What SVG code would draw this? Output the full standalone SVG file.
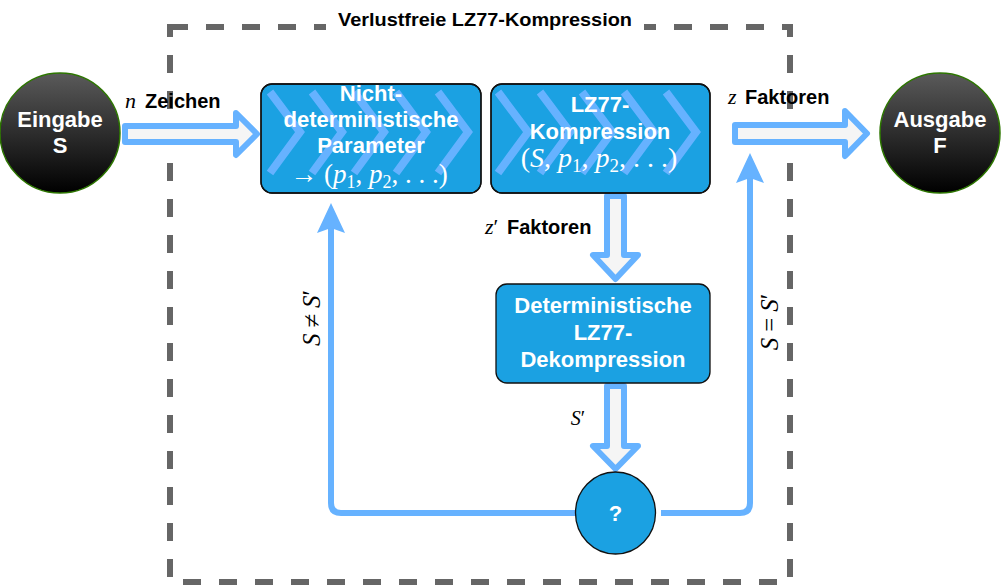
<svg xmlns="http://www.w3.org/2000/svg" width="1001" height="586" viewBox="0 0 1001 586">
<defs>
  <linearGradient id="dark" x1="0" y1="0" x2="0" y2="1">
    <stop offset="0" stop-color="#5a5a5a"/>
    <stop offset="1" stop-color="#000000"/>
  </linearGradient>
  <clipPath id="clip1"><rect x="261" y="84" width="220" height="109" rx="11"/></clipPath>
  <clipPath id="clip2"><rect x="491" y="84" width="219" height="109" rx="11"/></clipPath>
  <style>
    .sans{font-family:"Liberation Sans",Arial,sans-serif;font-weight:bold}
    .math{font-family:"Liberation Serif","Times New Roman",serif;font-style:italic}
    .wt{fill:#ffffff;font-size:22px;text-anchor:middle}
    .lbl{fill:#000000;font-size:20px}
    .box{fill:#1ba1e2;stroke:#111111;stroke-width:1.3}
    .chev{fill:none;stroke:#66b2ff;stroke-width:8}
    .flat{fill:#f5f5f5;stroke:#66b2ff;stroke-width:6;stroke-linejoin:round}
    .loop{fill:none;stroke:#66b2ff;stroke-width:6}
    .head{fill:#66b2ff;stroke:none}
  </style>
</defs>
<rect width="1001" height="586" fill="#ffffff"/>

<g id="container">
  <rect x="170" y="27" width="620" height="555" fill="none" stroke="#666666" stroke-width="6" stroke-dasharray="18 18"/>
  <rect x="326" y="8" width="318" height="34" fill="#ffffff"/>
  <text x="485" y="26" class="sans" font-size="19" text-anchor="middle" textLength="294" lengthAdjust="spacingAndGlyphs" fill="#000">Verlustfreie LZ77-Kompression</text>
</g>

<g id="connectors">
  <path class="flat" d="M125,126 L236,126 L236,113 L257,134 L236,155 L236,142 L125,142 Z"/>
  <path class="flat" d="M735,125 L845,125 L845,111 L867,133.5 L845,156 L845,142 L735,142 Z"/>
  <path class="flat" d="M607,196 L624,196 L624,255 L638,255 L615.5,279 L593,255 L607,255 Z"/>
  <path class="flat" d="M607,386 L624,386 L624,446 L638,446 L615.5,469 L593,446 L607,446 Z"/>
  <path class="loop" d="M576,513 L341,513 Q331,513 331,503 L331,228"/>
  <path class="head" d="M331,203 L345,233 L331,228 L317,233 Z"/>
  <path class="loop" d="M661,513 L740,513 Q750,513 750,503 L750,178"/>
  <path class="head" d="M750,153 L764,183 L750,178 L736,183 Z"/>
  <text x="125" y="108" class="lbl"><tspan class="math" font-size="22">n</tspan><tspan class="sans" x="145">Zeichen</tspan></text>
  <text x="728" y="104" class="lbl"><tspan class="math" font-size="22">z</tspan><tspan class="sans" x="745">Faktoren</tspan></text>
  <text x="485" y="234" class="lbl"><tspan class="math" font-size="22">z</tspan><tspan font-family="Liberation Serif,serif" font-size="22">′</tspan><tspan class="sans" x="507">Faktoren</tspan></text>
  <text x="578" y="425" class="lbl" font-size="23" text-anchor="middle"><tspan class="math">S</tspan><tspan font-family="Liberation Serif,serif">′</tspan></text>
  <text transform="translate(320,318) rotate(-90)" style="font-size:25px" text-anchor="middle" font-family="Liberation Serif,serif" fill="#000"><tspan class="math">S</tspan><tspan dx="6">≠</tspan><tspan class="math" dx="6">S</tspan>′</text>
  <text transform="translate(778,322) rotate(-90)" style="font-size:25px" text-anchor="middle" font-family="Liberation Serif,serif" fill="#000"><tspan class="math">S</tspan><tspan dx="6">=</tspan><tspan class="math" dx="6">S</tspan>′</text>
</g>

<g id="eingabe">
  <circle cx="60" cy="133" r="60" fill="url(#dark)" stroke="#2d7600" stroke-width="1.5"/>
  <text x="60" y="127" class="sans wt">Eingabe</text>
  <text x="60" y="153" class="sans wt">S</text>
</g>

<g id="ausgabe">
  <circle cx="940" cy="133" r="60" fill="url(#dark)" stroke="#2d7600" stroke-width="1.5"/>
  <text x="940" y="127" class="sans wt">Ausgabe</text>
  <text x="940" y="153" class="sans wt">F</text>
</g>

<g id="parameter">
  <rect class="box" x="261" y="84" width="220" height="109" rx="11"/>
  <g clip-path="url(#clip1)">
    <path class="chev" d="M270,92 L300,132 L270,173 M312,92 L342,132 L312,173 M354,92 L384,132 L354,173 M396,92 L426,132 L396,173 M438,92 L468,132 L438,173"/>
  </g>
  <rect x="261" y="84" width="220" height="109" rx="11" fill="none" stroke="#111" stroke-width="1.3"/>
  <text x="371" y="101" class="sans wt">Nicht-</text>
  <text x="371" y="127" class="sans wt">deterministische</text>
  <text x="371" y="153" class="sans wt">Parameter</text>
  <text x="369" y="183" fill="#ffffff" font-size="27" text-anchor="middle" font-family="Liberation Serif,serif">→ (<tspan class="math">p</tspan><tspan font-size="18" dy="5">1</tspan><tspan dy="-5">, </tspan><tspan class="math">p</tspan><tspan font-size="18" dy="5">2</tspan><tspan dy="-5">, . . .)</tspan></text>
</g>

<g id="kompression">
  <rect class="box" x="491" y="84" width="219" height="109" rx="11"/>
  <g clip-path="url(#clip2)">
    <path class="chev" d="M498,92 L528,132 L498,173 M540,92 L570,132 L540,173 M582,92 L612,132 L582,173 M624,92 L654,132 L624,173 M666,92 L696,132 L666,173"/>
  </g>
  <rect x="491" y="84" width="219" height="109" rx="11" fill="none" stroke="#111" stroke-width="1.3"/>
  <text x="600" y="112" class="sans wt">LZ77-</text>
  <text x="600" y="139" class="sans wt">Kompression</text>
  <text x="599" y="167" fill="#ffffff" font-size="28" text-anchor="middle" font-family="Liberation Serif,serif">(<tspan class="math">S</tspan>, <tspan class="math">p</tspan><tspan font-size="19" dy="5">1</tspan><tspan dy="-5">, </tspan><tspan class="math">p</tspan><tspan font-size="19" dy="5">2</tspan><tspan dy="-5">, . . .)</tspan></text>
</g>

<g id="dekompression">
  <rect class="box" x="496" y="284" width="214" height="99" rx="11"/>
  <text x="603" y="313" class="sans wt">Deterministische</text>
  <text x="603" y="340" class="sans wt">LZ77-</text>
  <text x="603" y="367" class="sans wt">Dekompression</text>
</g>

<g id="check">
  <ellipse cx="615.5" cy="513" rx="40" ry="41" fill="#1ba1e2" stroke="#111" stroke-width="1.3"/>
  <text x="615.5" y="521" class="sans wt">?</text>
</g>
</svg>
